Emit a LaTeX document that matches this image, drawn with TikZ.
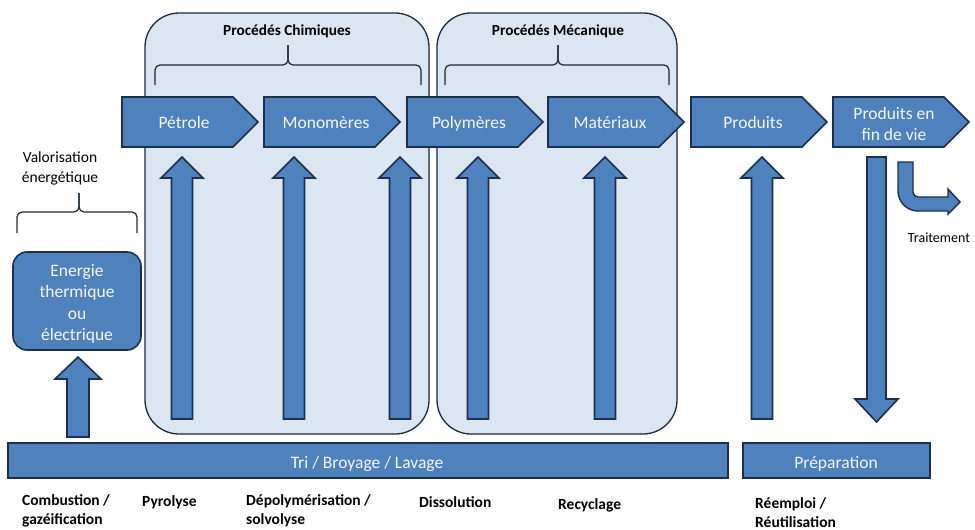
\documentclass[tikz,border=0pt]{standalone}
\usepackage{fontspec}
\setmainfont{Carlito}
\definecolor{bfill}{HTML}{4F81BD}
\definecolor{bline}{HTML}{1B2F4E}
\definecolor{pfill}{HTML}{DCE6F2}
\definecolor{pline}{HTML}{1E2A38}
\definecolor{wtxt}{HTML}{F4F7FB}
\newcommand\mychevbody[1]{%
  \draw[blk] (#1,97) -- ++(111,0) -- ++(25,25) -- ++(-25,25) -- ++(-111,0) -- cycle;}
\newcommand\mychev[3]{%
  \mychevbody{#1}
  \node[ctext,anchor=base] (#2) at (#1+62,128) {#3};}
\newcommand\myup[1]{%
  \draw[blk] (#1-10.5,419) -- (#1-10.5,178) -- (#1-21,178) -- (#1,157) -- (#1+21,178) -- (#1+10.5,178) -- (#1+10.5,419) -- cycle;}
\begin{document}
\begin{tikzpicture}[x=1pt,y=-1pt,
  blk/.style={fill=bfill,draw=bline,line width=1.6pt,line join=miter},
  panel/.style={fill=pfill,draw=pline,line width=1.3pt,rounded corners=34pt},
  ctext/.style={text=wtxt,font=\fontsize{17.5}{21.5}\selectfont,align=center,inner sep=0pt},
  btext/.style={font=\bfseries\fontsize{15.5}{19}\selectfont,align=left,anchor=west,inner sep=0pt},
  ttext/.style={font=\bfseries\fontsize{15.3}{18}\selectfont,inner sep=0pt,anchor=base},
  ntext/.style={font=\fontsize{15.5}{20}\selectfont,align=center,inner sep=0pt},
  brace/.style={draw=pline,line width=1.2pt,rounded corners=5pt}]
\useasboundingbox (0,0) rectangle (975,530);

% panels
\draw[panel] (145,13) rectangle (429,434);
\draw[panel] (437,13) rectangle (677,434);
\node[ttext] (tchim) at (287,35) {Procédés Chimiques};
\node[ttext] (tmec) at (558,35) {Procédés Mécanique};

% braces
\draw[brace] (155,85) -- (155,65) -- (288,65) -- (288,45);
\draw[brace] (421,85) -- (421,65) -- (288,65) -- (288,45);
\draw[brace] (445,85) -- (445,65) -- (558,65) -- (558,45);
\draw[brace] (669,85) -- (669,65) -- (558,65) -- (558,45);
\draw[brace] (17,233) -- (17,212) -- (79,212) -- (79,193);
\draw[brace] (137,233) -- (137,212) -- (79,212) -- (79,193);
\node[ntext] (valo) at (60,168) {Valorisation\\énergétique};

% chevrons
\mychev{122}{petrole}{Pétrole}
\mychev{264}{mono}{Monomères}
\mychev{407}{poly}{Polymères}
\mychev{548}{mat}{Matériaux}
\mychev{691}{prod}{Produits}
\mychevbody{833}
\node[ctext] (fdv) at (894,124) {Produits en\\fin de vie};

% up arrows
\myup{182}
\myup{294}
\myup{400}
\myup{478}
\myup{605}
\myup{762}

% down arrow
\draw[blk] (867,157) -- (886,157) -- (886,399) -- (898,399) -- (876.5,422) -- (855,399) -- (867,399) -- cycle;

% traitement bent arrow
\draw[blk,line width=1.4pt] (898,162) -- (913,162) -- (913,192) arc[start angle=180,end angle=90,radius=5] -- (948,197) -- (948,189) -- (960,202) -- (948,214) -- (948,211) -- (918,211) arc[start angle=90,end angle=180,radius=20] -- cycle;
\node[font=\fontsize{14}{17}\selectfont,inner sep=0pt] (trait) at (939,238) {Traitement};

% energie box
\draw[blk,rounded corners=14pt] (13,252) rectangle (141,350);
\node[ctext] (energie) at (77,304) {Energie\\thermique\\ou\\électrique};
\draw[blk] (67,437) -- (67,379) -- (55,379) -- (78,357) -- (101,379) -- (89,379) -- (89,437) -- cycle;

% bars
\draw[blk] (8,443) rectangle (728,478);
\node[ctext,anchor=base] (tri) at (367,468) {Tri / Broyage / Lavage};
\draw[blk] (743,443) rectangle (930,478);
\node[ctext,anchor=base] (prep) at (836,468) {Préparation};

% bottom labels
\node[btext] (comb) at (22,511) {Combustion /\\gazéification};
\node[btext] (pyro) at (142,502) {Pyrolyse};
\node[btext] (depol) at (246,511) {Dépolymérisation /\\solvolyse};
\node[btext] (diss) at (419,502) {Dissolution};
\node[btext] (recy) at (558,505) {Recyclage};
\node[btext] (reemp) at (755,513) {Réemploi /\\Réutilisation};
\end{tikzpicture}
\end{document}
